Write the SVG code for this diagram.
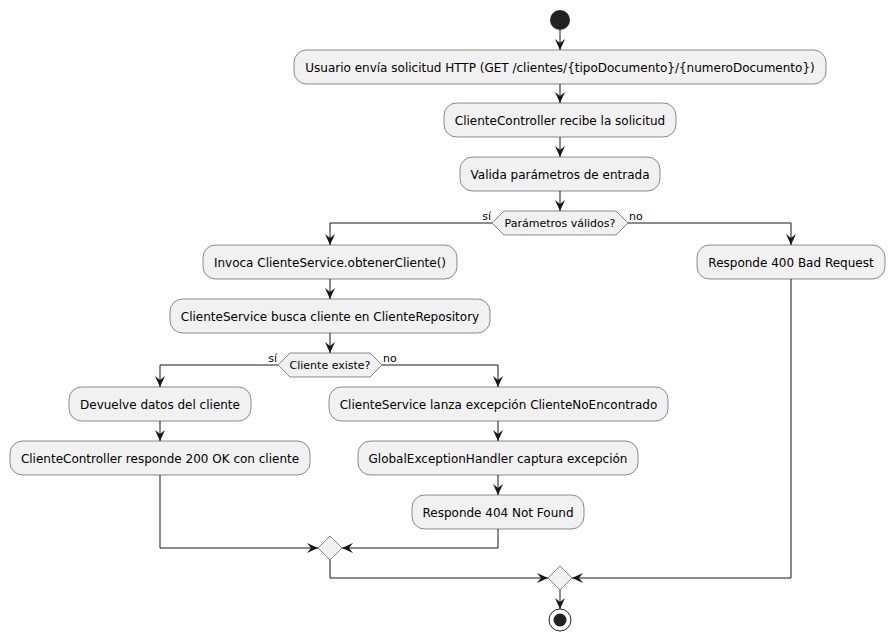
<svg xmlns="http://www.w3.org/2000/svg" width="894" height="641" viewBox="0 0 894 641">
  <style>
    .act rect { fill: #F1F1F1; stroke: #181818; stroke-width: 0.5; }
    .act text { font-family: "DejaVu Sans", sans-serif; font-size: 12px; fill: #000; text-anchor: middle; }
    .dec polygon { fill: #F1F1F1; stroke: #181818; stroke-width: 0.5; }
    .dec text { font-family: "DejaVu Sans", sans-serif; font-size: 11px; fill: #000; text-anchor: middle; }
    .lbl { font-family: "DejaVu Sans", sans-serif; font-size: 11px; fill: #000; }
    .edge { fill: none; stroke: #181818; stroke-width: 1; marker-end: url(#arrow); }
  </style>
  <defs>
    <marker id="arrow" viewBox="0 0 11 10" refX="11" refY="5" markerWidth="11" markerHeight="10" markerUnits="userSpaceOnUse" orient="auto">
      <path d="M0,0 L11,5 L0,10 L4,5 Z" fill="#181818"/>
    </marker>
  </defs>
  <rect width="894" height="641" fill="#FFFFFF"/>

  <!-- start / end -->
  <g id="start"><circle cx="560" cy="20" r="10" fill="#222222"/></g>
  <g id="end">
    <circle cx="560" cy="620" r="11" fill="none" stroke="#222222" stroke-width="1"/>
    <circle cx="560" cy="620" r="6.5" fill="#222222"/>
  </g>

  <!-- activities -->
  <g id="a1" class="act"><rect x="294" y="50" width="532" height="34" rx="12.5"/><text x="560" y="71.5">Usuario envía solicitud HTTP (GET /clientes/{tipoDocumento}/{numeroDocumento})</text></g>
  <g id="a2" class="act"><rect x="444" y="103" width="232" height="34" rx="12.5"/><text x="560" y="124.5">ClienteController recibe la solicitud</text></g>
  <g id="a3" class="act"><rect x="460" y="157" width="200" height="34" rx="12.5"/><text x="560" y="178.5">Valida parámetros de entrada</text></g>
  <g id="a4" class="act"><rect x="203" y="245" width="254" height="34" rx="12.5"/><text x="330" y="266.5">Invoca ClienteService.obtenerCliente()</text></g>
  <g id="a5" class="act"><rect x="170" y="299" width="320" height="34" rx="12.5"/><text x="330" y="320.5">ClienteService busca cliente en ClienteRepository</text></g>
  <g id="a6" class="act"><rect x="697" y="245" width="188" height="34" rx="12.5"/><text x="791" y="266.5">Responde 400 Bad Request</text></g>
  <g id="a7" class="act"><rect x="69" y="387" width="182" height="34" rx="12.5"/><text x="160" y="408.5">Devuelve datos del cliente</text></g>
  <g id="a8" class="act"><rect x="10" y="441" width="300" height="34" rx="12.5"/><text x="160" y="462.5">ClienteController responde 200 OK con cliente</text></g>
  <g id="a9" class="act"><rect x="329" y="387" width="339" height="34" rx="12.5"/><text x="498.5" y="408.5">ClienteService lanza excepción ClienteNoEncontrado</text></g>
  <g id="a10" class="act"><rect x="358" y="441" width="280" height="34" rx="12.5"/><text x="498" y="462.5">GlobalExceptionHandler captura excepción</text></g>
  <g id="a11" class="act"><rect x="412" y="495" width="172" height="34" rx="12.5"/><text x="498" y="516.5">Responde 404 Not Found</text></g>

  <!-- decisions -->
  <g id="d1" class="dec"><polygon points="492,223 504,211 616,211 628,223 616,235 504,235"/><text x="560" y="227">Parámetros válidos?</text></g>
  <g id="d2" class="dec"><polygon points="278,365 290,353 370,353 382,365 370,377 290,377"/><text x="330" y="369">Cliente existe?</text></g>
  <g id="m1" class="dec"><polygon points="318,548 330,536 342,548 330,560"/></g>
  <g id="m2" class="dec"><polygon points="548,578 560,566 572,578 560,590"/></g>

  <!-- connectors -->
  <g id="connectors">
    <path class="edge" d="M560,30 L560,50"/>
    <path class="edge" d="M560,84 L560,103"/>
    <path class="edge" d="M560,137 L560,157"/>
    <path class="edge" d="M560,191 L560,211"/>
    <path class="edge" d="M492,223 L330,223 L330,245"/>
    <path class="edge" d="M628,223 L791,223 L791,245"/>
    <path class="edge" d="M330,279 L330,299"/>
    <path class="edge" d="M330,333 L330,353"/>
    <path class="edge" d="M278,365 L160,365 L160,387"/>
    <path class="edge" d="M382,365 L498,365 L498,387"/>
    <path class="edge" d="M160,421 L160,441"/>
    <path class="edge" d="M498,421 L498,441"/>
    <path class="edge" d="M498,475 L498,495"/>
    <path class="edge" d="M160,475 L160,548 L318,548"/>
    <path class="edge" d="M498,529 L498,548 L342,548"/>
    <path class="edge" d="M330,560 L330,578 L548,578"/>
    <path class="edge" d="M791,279 L791,578 L572,578"/>
    <path class="edge" d="M560,590 L560,609"/>
    <text class="lbl" x="491" y="220" text-anchor="end">sí</text>
    <text class="lbl" x="629" y="220">no</text>
    <text class="lbl" x="277" y="362" text-anchor="end">sí</text>
    <text class="lbl" x="383" y="362">no</text>
  </g>
</svg>
